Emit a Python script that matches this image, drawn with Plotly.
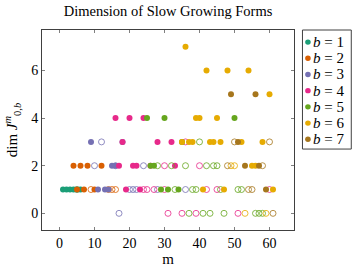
import plotly.graph_objects as go

# ---- data (m, dim) for each b; filled = solid markers, open = hollow markers ----
b_values = [1, 2, 3, 4, 5, 6, 7]
colors = ["#1b9e77", "#d95f02", "#7570b3", "#e7298a", "#66a61e", "#e6ab02", "#a6761d"]

b1_filled_m = [1, 2, 3, 4, 6]
b1_filled_dim = [1, 1, 1, 1, 1]
b1_open_m = [5]
b1_open_dim = [1]

b2_filled_m = [4, 6, 8, 12, 5, 7, 10]
b2_filled_dim = [2, 2, 2, 2, 1, 1, 1]
b2_open_m = [9, 14, 15, 16]
b2_open_dim = [1, 1, 1, 1]

b3_filled_m = [9, 18, 15, 16, 11, 13, 14]
b3_filled_dim = [3, 3, 2, 2, 1, 1, 1]
b3_open_m = [12, 10, 16, 24, 20, 21, 22, 28, 36, 17]
b3_open_dim = [3, 2, 2, 2, 1, 1, 1, 1, 1, 0]

b4_filled_m = [16, 20, 24, 18, 28, 32, 17, 21, 22, 26, 33, 19, 23]
b4_filled_dim = [4, 4, 4, 3, 3, 3, 2, 2, 2, 2, 2, 1, 1]
b4_open_m = [36, 30, 40, 24, 25, 27, 30, 42, 45, 60, 31, 35, 39, 51]
b4_open_dim = [3, 2, 2, 1, 1, 1, 1, 1, 1, 1, 0, 0, 0, 0]

b5_filled_m = [25, 30, 50, 35, 26, 27, 29, 31, 34]
b5_filled_dim = [4, 4, 4, 3, 2, 2, 1, 1, 1]
b5_open_m = [40, 28, 32, 36, 42, 44, 45, 33, 38, 39, 46, 51, 52, 37, 41, 43, 47, 56, 57, 58]
b5_open_dim = [3, 2, 2, 2, 2, 2, 2, 1, 1, 1, 1, 1, 1, 0, 0, 0, 0, 0, 0, 0]

b6_filled_m = [36, 42, 48, 54, 60, 39, 40, 45, 35, 37, 38, 43, 44, 46, 52, 58, 55, 56, 41, 47, 61]
b6_filled_dim = [7, 6, 6, 6, 5, 4, 4, 4, 3, 3, 3, 3, 3, 3, 3, 3, 2, 2, 1, 1, 1]
b6_open_m = [49, 50, 53, 59]
b6_open_dim = [2, 2, 0, 0]

b7_filled_m = [49, 56, 51, 53, 57, 59]
b7_filled_dim = [5, 5, 3, 2, 2, 1]
b7_open_m = [50, 60, 48, 58, 54, 55, 61]
b7_open_dim = [3, 3, 2, 2, 1, 1, 0]

filled_m = [b1_filled_m, b2_filled_m, b3_filled_m, b4_filled_m, b5_filled_m, b6_filled_m, b7_filled_m]
filled_dim = [b1_filled_dim, b2_filled_dim, b3_filled_dim, b4_filled_dim, b5_filled_dim, b6_filled_dim, b7_filled_dim]
open_m = [b1_open_m, b2_open_m, b3_open_m, b4_open_m, b5_open_m, b6_open_m, b7_open_m]
open_dim = [b1_open_dim, b2_open_dim, b3_open_dim, b4_open_dim, b5_open_dim, b6_open_dim, b7_open_dim]

x_ticks = [0, 10, 20, 30, 40, 50, 60]
y_ticks = [0, 2, 4, 6]

SERIF = "Liberation Serif"

fig = go.Figure()
for i, b in enumerate(b_values):
    fig.add_trace(go.Scatter(
        x=open_m[i], y=open_dim[i], mode="markers", showlegend=False,
        marker=dict(symbol="circle-open", size=6, color=colors[i], line=dict(width=0.8, color=colors[i])),
    ))
    fig.add_trace(go.Scatter(
        x=filled_m[i], y=filled_dim[i], mode="markers", showlegend=False,
        marker=dict(symbol="circle", size=6, color=colors[i], line=dict(width=0)),
    ))

# plot area geometry (px) for the hand-built legend box
L, R, T, B = 41, 59, 30, 34
W, H = 353, 274
pw, ph = W - L - R, H - T - B

def px_x(p):
    return (p - L) / pw

def px_y(p):
    return (H - B - p) / ph

fig.add_shape(type="rect", xref="paper", yref="paper", layer="below",
              x0=px_x(302.5), x1=px_x(351.5), y0=px_y(155), y1=px_y(30),
              line=dict(color="#404040", width=1), fillcolor="white")
for i, b in enumerate(b_values):
    cy = 42.7 + 17 * i
    r = 2.8
    fig.add_shape(type="circle", xref="paper", yref="paper",
                  x0=px_x(308 - r), x1=px_x(308 + r), y0=px_y(cy + r), y1=px_y(cy - r),
                  fillcolor=colors[i], line=dict(width=0))
    fig.add_annotation(xref="paper", yref="paper", x=px_x(312), y=px_y(cy),
                       xanchor="left", yanchor="middle", showarrow=False,
                       width=38, align="left", borderpad=0,
                       text=f"<i>b</i> = {b}", font=dict(family=SERIF, size=15, color="black"))

axis_common = dict(showgrid=False, zeroline=False, showline=True, linecolor="#404040", linewidth=1,
                   mirror="ticks", ticks="inside", ticklen=3, tickcolor="#808080", tickwidth=0.8,
                   tickfont=dict(family=SERIF, size=14, color="black"))

fig.update_layout(
    width=W, height=H,
    margin=dict(l=L, r=R, t=T, b=B),
    paper_bgcolor="white", plot_bgcolor="white",
    title=dict(text="Dimension of Slow Growing Forms", x=0.5, xref="paper", xanchor="center",
               y=1 - 11 / H, yanchor="middle", font=dict(family=SERIF, size=14.5, color="black")),
    xaxis=dict(range=[-5, 67], tickvals=x_ticks,
               title=dict(text="m", font=dict(family=SERIF, size=15, color="black"), standoff=1),
               **axis_common),
    yaxis=dict(range=[-0.7, 7.7], tickvals=y_ticks,
               title=dict(text="dim <i>J</i><sup><i>m</i></sup><sub>0,<i>b</i></sub>",
                          font=dict(family=SERIF, size=15, color="black"), standoff=9),
               **axis_common),
    showlegend=False,
)

fig.write_html(
    "out.html",
    config={"displayModeBar": False},
    post_script="document.body.style.margin='0';document.body.style.overflow='hidden';",
)
